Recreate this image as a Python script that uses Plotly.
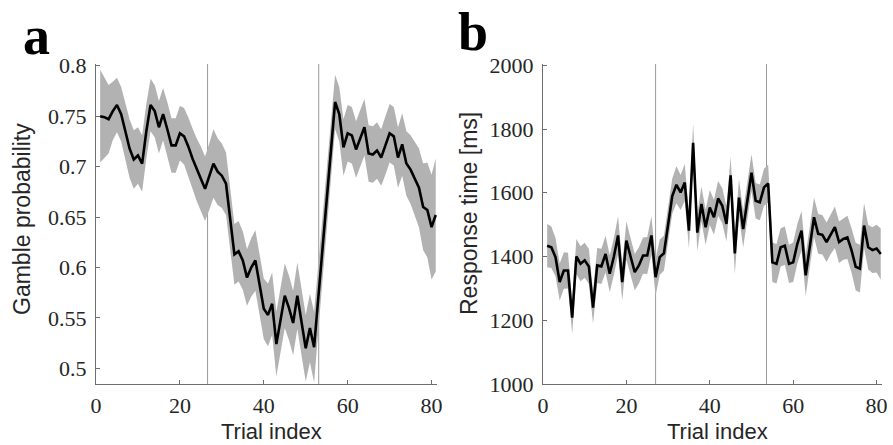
import plotly.graph_objects as go

# ---------------- data ----------------
trials = list(range(1, 82))

gamble_mean = [
    0.750, 0.749, 0.747, 0.755, 0.761, 0.752, 0.735, 0.718, 0.707, 0.711,
    0.703, 0.735, 0.761, 0.755, 0.739, 0.752, 0.737, 0.721, 0.721, 0.733,
    0.730, 0.720, 0.708, 0.697, 0.688, 0.678, 0.690, 0.703, 0.695, 0.691,
    0.683, 0.650, 0.613, 0.616, 0.607, 0.590, 0.600, 0.607, 0.582, 0.559,
    0.553, 0.564, 0.524, 0.548, 0.572, 0.560, 0.545, 0.572, 0.546, 0.520,
    0.540, 0.521, 0.570, 0.618, 0.667, 0.715, 0.764, 0.752, 0.719, 0.733,
    0.731, 0.717, 0.728, 0.739, 0.713, 0.712, 0.716, 0.709, 0.721, 0.733,
    0.730, 0.709, 0.722, 0.703, 0.697, 0.688, 0.679, 0.660, 0.657, 0.640,
    0.652,
]
gamble_se = [
    0.046, 0.040, 0.034, 0.029, 0.027, 0.027, 0.028, 0.029, 0.029, 0.028,
    0.028, 0.027, 0.026, 0.026, 0.026, 0.026, 0.027, 0.027, 0.027, 0.027,
    0.028, 0.029, 0.030, 0.031, 0.032, 0.032, 0.033, 0.034, 0.033, 0.032,
    0.031, 0.031, 0.030, 0.030, 0.029, 0.028, 0.029, 0.030, 0.030, 0.030,
    0.031, 0.031, 0.032, 0.032, 0.032, 0.032, 0.032, 0.033, 0.033, 0.033,
    0.034, 0.035, 0.033, 0.031, 0.029, 0.028, 0.027, 0.027, 0.028, 0.028,
    0.028, 0.028, 0.028, 0.028, 0.028, 0.028, 0.028, 0.028, 0.029, 0.029,
    0.029, 0.030, 0.031, 0.032, 0.034, 0.036, 0.039, 0.043, 0.047, 0.052,
    0.056,
]

rt_mean = [
    1434, 1429, 1398, 1320, 1356, 1356, 1208, 1400, 1377, 1388,
    1369, 1240, 1372, 1369, 1408, 1346, 1400, 1466, 1320, 1450,
    1400, 1351, 1372, 1403, 1403, 1466, 1335, 1398, 1410, 1500,
    1590, 1625, 1601, 1632, 1481, 1757, 1475, 1565, 1492, 1554,
    1523, 1582, 1559, 1502, 1655, 1410, 1585, 1486, 1580, 1663,
    1575, 1570, 1617, 1629, 1382, 1377, 1429, 1434, 1377, 1382,
    1440, 1481, 1341, 1430, 1523, 1471, 1468, 1445, 1470, 1492,
    1445, 1455, 1460, 1419, 1368, 1362, 1497, 1429, 1420, 1425,
    1408,
]
rt_se = [
    68, 65, 60, 58, 57, 56, 50, 55, 55, 55,
    55, 50, 55, 55, 57, 58, 58, 60, 58, 60,
    58, 57, 57, 57, 58, 60, 58, 55, 55, 55,
    55, 58, 55, 58, 55, 60, 58, 55, 55, 55,
    55, 55, 55, 55, 58, 65, 58, 58, 58, 58,
    56, 56, 58, 60, 62, 62, 60, 60, 60, 62,
    62, 62, 65, 62, 62, 62, 62, 62, 62, 65,
    65, 65, 68, 70, 75, 75, 70, 70, 72, 75,
    80,
]

block_bounds_a = [26.6, 53.1]
block_bounds_b = [27.0, 53.6]

x_ticks = [0, 20, 40, 60, 80]
x_ticktext = ["0", "20", "40", "60", "80"]
ya_ticks = [0.5, 0.55, 0.6, 0.65, 0.7, 0.75, 0.8]
ya_ticktext = ["0.5", "0.55", "0.6", "0.65", "0.7", "0.75", "0.8"]
yb_ticks = [1000, 1200, 1400, 1600, 1800, 2000]
yb_ticktext = ["1000", "1200", "1400", "1600", "1800", "2000"]

# ---------------- figure ----------------
W, H = 893, 445
BAND = "rgb(178,178,178)"
AXC = "#6e6e6e"
TXT = "#262626"

fig = go.Figure()


def add_panel(fig, mean, se, xa, ya):
    lower = [m - s for m, s in zip(mean, se)]
    upper = [m + s for m, s in zip(mean, se)]
    fig.add_trace(go.Scatter(x=trials, y=lower, mode="lines", line=dict(width=0, color=BAND),
                             xaxis=xa, yaxis=ya, showlegend=False, hoverinfo="skip"))
    fig.add_trace(go.Scatter(x=trials, y=upper, mode="lines", line=dict(width=0, color=BAND),
                             fill="tonexty", fillcolor=BAND,
                             xaxis=xa, yaxis=ya, showlegend=False, hoverinfo="skip"))
    fig.add_trace(go.Scatter(x=trials, y=mean, mode="lines", line=dict(width=2.6, color="black"),
                             xaxis=xa, yaxis=ya, showlegend=False))


add_panel(fig, gamble_mean, gamble_se, "x", "y")
add_panel(fig, rt_mean, rt_se, "x2", "y2")

for xv in block_bounds_a:
    fig.add_shape(type="line", xref="x", yref="y domain", x0=xv, x1=xv, y0=0, y1=1,
                  line=dict(color="#9a9a9a", width=1), layer="below")
for xv in block_bounds_b:
    fig.add_shape(type="line", xref="x2", yref="y2 domain", x0=xv, x1=xv, y0=0, y1=1,
                  line=dict(color="#9a9a9a", width=1), layer="below")

ydom = [1 - 384 / H, 1 - 64 / H]
tickfont = dict(family="Liberation Serif", size=22, color=TXT)


def xax(dom, anchor):
    return dict(domain=dom, anchor=anchor, range=[0, 81.3], showline=True, linecolor=AXC,
                linewidth=1, ticks="inside", ticklen=4, tickcolor=AXC, showgrid=False,
                zeroline=False, tickvals=x_ticks, ticktext=x_ticktext, tickfont=tickfont,
                ticklabelstandoff=2, automargin=False)


def yax(anchor, rng, tv, tt):
    return dict(domain=ydom, anchor=anchor, range=rng, tickvals=tv, ticktext=tt,
                showline=True, linecolor=AXC, linewidth=1, ticks="inside", ticklen=4,
                tickcolor=AXC, showgrid=False, zeroline=False, tickfont=tickfont,
                ticklabelstandoff=4, automargin=False)


fig.update_layout(
    template="none",
    width=W, height=H,
    margin=dict(l=0, r=0, t=0, b=0, autoexpand=False),
    paper_bgcolor="white", plot_bgcolor="white",
    showlegend=False,
    xaxis=xax([96 / W, 437 / W], "y"),
    xaxis2=xax([543 / W, 882 / W], "y2"),
    yaxis=yax("x", [0.4845, 0.8017], ya_ticks, ya_ticktext),
    yaxis2=yax("x2", [1000, 2004], yb_ticks, yb_ticktext),
)

titlefont = dict(family="Liberation Sans", size=23, color=TXT)
xtitlefont = dict(family="Liberation Sans", size=22, color=TXT)
letterfont = dict(family="Liberation Serif", size=54, color="black", weight="bold")


def px(x):
    return x / W


def py(y):
    return 1 - y / H


annots = [
    dict(text="Gamble probability", x=px(22), y=py(219), textangle=-90, font=titlefont),
    dict(text="Response time [ms]", x=px(469), y=py(214), textangle=-90, font=titlefont),
    dict(text="Trial index", x=px(271), y=py(431.5), font=xtitlefont),
    dict(text="Trial index", x=px(717), y=py(431.5), font=xtitlefont),
    dict(text="a", x=px(36), y=py(36), font=letterfont),
    dict(text="b", x=px(473), y=py(32), font=letterfont),
]
for a in annots:
    fig.add_annotation(xref="paper", yref="paper", xanchor="center", yanchor="middle",
                       showarrow=False, borderpad=0, **a)

fig.write_html(
    "out.html",
    config={"displayModeBar": False},
    post_script="document.body.style.margin='0';document.body.style.overflow='hidden';",
)
